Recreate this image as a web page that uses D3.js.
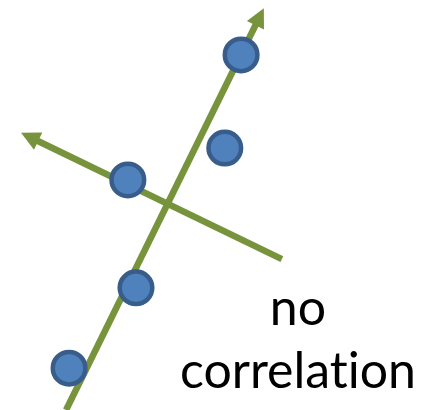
<!DOCTYPE html>
<html>
<head>
<meta charset="utf-8">
<script src="https://cdn.jsdelivr.net/npm/d3@7"></script>
<style>
  html, body { margin: 0; padding: 0; background: #ffffff; }
  svg { display: block; }
</style>
</head>
<body>
<div class="chart"></div>
<script>
// 数据点（坐标系 0-10，y 向上）
const pointX = [5.62, 2.98, 5.24, 3.17, 1.61];
const pointY = [8.66, 5.61, 6.39, 2.98, 1.02];

// 两条带箭头的轴线：起点 -> 终点（箭头在终点）
const axisNames = ['main', 'second'];
const axisFrom = [[1.54, 0.00], [6.57, 3.68]];
const axisTo = [[6.15, 9.80], [0.49, 6.76]];

// 文字标签
const labelLines = ['no', 'correlation'];

const width = 429, height = 410;
const green = '#77933c';

const svg = d3.select('.chart')
    .append('svg')
    .attr('width', width)
    .attr('height', height);

const x = d3.scaleLinear().domain([0, 10]).range([0, width]);
const y = d3.scaleLinear().domain([0, 10]).range([height, 0]);

// 箭头尺寸
const headLen = 19, headHalf = 9.5;

const axes = axisNames.map((name, i) => {
    const x1 = x(axisFrom[i][0]), y1 = y(axisFrom[i][1]);
    const x2 = x(axisTo[i][0]), y2 = y(axisTo[i][1]);
    const len = Math.hypot(x2 - x1, y2 - y1);
    const ux = (x2 - x1) / len, uy = (y2 - y1) / len;
    return {name, x1, y1, x2, y2, ux, uy};
});

const axisG = svg.append('g').attr('class', 'axes');

axisG.selectAll('line')
    .data(axes)
    .enter()
    .append('line')
    .attr('x1', d => d.x1)
    .attr('y1', d => d.y1)
    .attr('x2', d => d.x2 - d.ux * (headLen - 2))
    .attr('y2', d => d.y2 - d.uy * (headLen - 2))
    .attr('stroke', green)
    .attr('stroke-width', 6.5);

axisG.selectAll('path')
    .data(axes)
    .enter()
    .append('path')
    .attr('fill', green)
    .attr('d', d => {
        const bx = d.x2 - d.ux * headLen, by = d.y2 - d.uy * headLen;
        const px = -d.uy, py = d.ux;
        return `M${d.x2},${d.y2}L${bx + px * headHalf},${by + py * headHalf}L${bx - px * headHalf},${by - py * headHalf}Z`;
    });

// 圆点
svg.append('g')
    .attr('class', 'points')
    .selectAll('circle')
    .data(pointX.map((v, i) => ({x: v, y: pointY[i]})))
    .enter()
    .append('circle')
    .attr('cx', d => x(d.x))
    .attr('cy', d => y(d.y))
    .attr('r', 16.3)
    .attr('fill', '#4f81bd')
    .attr('stroke', '#385d8a')
    .attr('stroke-width', 4.5);

// 标签
svg.append('text')
    .attr('x', 298)
    .attr('y', 325)
    .attr('text-anchor', 'middle')
    .style('font-family', 'Lato, "Open Sans", sans-serif')
    .style('font-size', '50px')
    .style('font-variant-ligatures', 'none')
    .style('font-feature-settings', '"liga" 0')
    .attr('fill', '#000000')
    .selectAll('tspan')
    .data(labelLines)
    .enter()
    .append('tspan')
    .attr('x', 298)
    .attr('dy', (d, i) => i === 0 ? 0 : 63)
    .text(d => d);
</script>
</body>
</html>
